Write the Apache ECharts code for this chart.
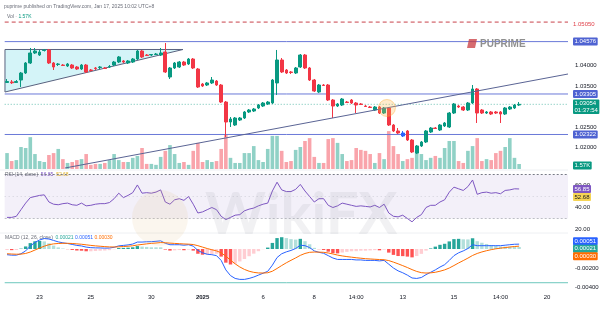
<!DOCTYPE html>
<html><head><meta charset="utf-8">
<script src="https://cdn.jsdelivr.net/npm/echarts@6/dist/echarts.min.js"></script>
<style>html,body{margin:0;padding:0;background:#fff}#c{width:606px;height:311px}</style>
</head><body><div id="c"></div>
<script>
// ---------- data ----------
const N = 121; // category slots (111 candles + empty future space)
const tickIdx  = [7, 18, 31, 42, 55, 66, 75, 85, 96, 106, 116];
const tickText = ['23', '25', '30', '2025', '6', '8', '14:00', '13', '15', '14:00', '20'];

// [open, close, low, high]
const candles = [
[1.03584,1.03608,1.03572,1.03669],[1.03596,1.03577,1.03547,1.03644],[1.03584,1.03608,1.03572,1.03644],[1.03644,1.03814,1.03474,1.03839],[1.03814,1.04057,1.03790,1.04081],
[1.04057,1.04300,1.04033,1.04421],[1.04300,1.04348,1.04275,1.04421],[1.04251,1.04324,1.04227,1.04373],[1.04360,1.04373,1.04336,1.04397],[1.04373,1.04057,1.04033,1.04397],
[1.04057,1.03960,1.03887,1.04081],[1.04021,1.04033,1.03984,1.04057],[1.04008,1.03996,1.03984,1.04033],[1.03984,1.04033,1.03960,1.04057],[1.04008,1.03936,1.03911,1.04033],
[1.03960,1.03911,1.03887,1.03984],[1.03911,1.04008,1.03887,1.04033],[1.04008,1.03839,1.03814,1.04033],[1.03887,1.03875,1.03851,1.03911],[1.03936,1.03923,1.03887,1.03960],
[1.03948,1.03960,1.03911,1.03984],[1.03936,1.03923,1.03911,1.03960],[1.03960,1.03972,1.03936,1.04008],[1.04008,1.04081,1.03984,1.04106],[1.04081,1.04203,1.04057,1.04227],
[1.04106,1.04081,1.04057,1.04130],[1.04057,1.04106,1.04033,1.04130],[1.04081,1.04154,1.04057,1.04178],[1.04154,1.04348,1.04130,1.04373],[1.04348,1.04203,1.04178,1.04373],
[1.04251,1.04239,1.04227,1.04275],[1.04251,1.04263,1.04227,1.04275],[1.04263,1.04275,1.04251,1.04300],[1.04251,1.04300,1.04227,1.04421],[1.04324,1.03839,1.03814,1.04542],
[1.03717,1.03936,1.03669,1.03960],[1.03936,1.04057,1.03911,1.04081],[1.03960,1.04081,1.03936,1.04106],[1.04081,1.04008,1.03984,1.04106],[1.04033,1.04154,1.04008,1.04178],
[1.04154,1.03936,1.03911,1.04178],[1.03911,1.03474,1.03450,1.03936],[1.03547,1.03499,1.03474,1.03572],[1.03523,1.03572,1.03499,1.03596],[1.03572,1.03644,1.03547,1.03717],
[1.03620,1.03523,1.03499,1.03644],[1.03523,1.03110,1.03086,1.03547],[1.03110,1.02625,1.02261,1.03135],[1.02625,1.02698,1.02504,1.02746],[1.02552,1.02722,1.02528,1.02746],
[1.02673,1.02722,1.02649,1.02746],[1.02722,1.02868,1.02698,1.02892],[1.02868,1.02916,1.02843,1.02940],[1.02892,1.02940,1.02868,1.02965],[1.02965,1.03037,1.02940,1.03062],
[1.03013,1.03086,1.02989,1.03110],[1.03062,1.03110,1.03037,1.03135],[1.03086,1.03644,1.03062,1.03669],[1.03572,1.04130,1.03280,1.04373],[1.04130,1.03839,1.03814,1.04178],
[1.03887,1.03814,1.03790,1.03911],[1.03839,1.03826,1.03790,1.03863],[1.03814,1.03936,1.03790,1.03960],[1.03960,1.04251,1.03936,1.04275],[1.04251,1.03936,1.03911,1.04275],
[1.03936,1.03644,1.03620,1.03960],[1.03644,1.03377,1.03353,1.03669],[1.03353,1.03523,1.03329,1.03547],[1.03523,1.03511,1.03499,1.03547],[1.03523,1.03159,1.03135,1.03547],
[1.03159,1.03013,1.02722,1.03183],[1.03013,1.03062,1.02989,1.03086],[1.03037,1.03183,1.03013,1.03207],[1.03110,1.03098,1.03086,1.03135],[1.03159,1.03086,1.03062,1.03183],
[1.03086,1.03037,1.02843,1.03110],[1.03062,1.03050,1.03037,1.03086],[1.03013,1.03001,1.02989,1.03037],[1.02989,1.02977,1.02965,1.03013],[1.02916,1.02989,1.02892,1.03013],
[1.02989,1.02843,1.02819,1.03013],[1.02843,1.02965,1.02819,1.02989],[1.02965,1.02552,1.02528,1.02989],[1.02552,1.02407,1.02382,1.02576],[1.02407,1.02358,1.02334,1.02479],
[1.02285,1.02358,1.02261,1.02407],[1.02407,1.02188,1.02164,1.02431],[1.02188,1.01897,1.01872,1.02212],[1.01872,1.02043,1.01848,1.02067],[1.02043,1.02140,1.02018,1.02164],
[1.02140,1.02407,1.02115,1.02431],[1.02382,1.02479,1.02358,1.02504],[1.02479,1.02467,1.02455,1.02504],[1.02431,1.02552,1.02407,1.02576],[1.02528,1.02601,1.02504,1.02625],
[1.02504,1.02843,1.02479,1.02868],[1.02843,1.03062,1.02819,1.03086],[1.03013,1.02989,1.02965,1.03037],[1.02989,1.02916,1.02892,1.03013],[1.02916,1.03086,1.02892,1.03110],
[1.03086,1.03426,1.03062,1.03523],[1.03426,1.02843,1.02601,1.03450],[1.02916,1.02843,1.02819,1.02940],[1.02843,1.02868,1.02819,1.02892],[1.02868,1.02819,1.02795,1.02892],
[1.02868,1.02843,1.02819,1.02892],[1.02868,1.02819,1.02601,1.02892],[1.02819,1.02965,1.02795,1.02989],[1.02940,1.02989,1.02916,1.03013],[1.02965,1.03037,1.02940,1.03062],
[1.03037,1.03054,1.03013,1.03110]
];
const blueCandle = 85;

// volume in thousands
const volumeK = [
5.0,2.5,2.8,6.9,6.6,10.0,4.7,2.5,2.2,4.4,
5.0,6.3,3.1,1.9,2.2,2.8,3.1,4.7,1.3,1.6,
1.6,1.9,2.8,4.7,2.8,2.2,2.2,3.5,4.1,6.6,
1.6,1.6,1.3,3.8,5.7,7.5,4.7,1.9,2.2,1.3,
5.7,8.2,2.2,2.8,2.2,2.5,6.3,10.7,3.5,1.9,
1.9,5.0,5.0,7.2,2.8,2.2,6.3,10.4,10.4,5.7,
2.2,2.5,6.0,6.9,8.8,9.7,3.8,1.9,1.9,9.4,
9.7,8.2,4.7,2.5,2.8,6.6,6.0,5.7,4.7,1.9,
5.0,3.1,11.9,7.2,4.7,2.5,3.1,3.5,5.7,4.7,
2.8,3.5,4.1,3.5,6.6,8.8,8.8,2.5,1.9,5.7,
7.2,9.7,2.5,3.1,2.8,5.0,5.7,6.9,9.7,3.5,1.57
];

const rsi = [
31,31,32,38,44,49,50,51,51.5,45,
43,42.5,43.5,44,42.5,42,44,41.5,42,43,
43.5,43.5,44.5,48,53,49,51,53.5,60.5,53,
53.5,53,54,56,45,43,47,48,46.5,50,
43,35,36,38,40,38,32,29,31,33,
33.5,37,38.5,39.5,41.5,43,44,55,63,56,
54.5,54.5,56.5,61,55,50,45,48,48,42,
40,41.5,44,43,42,41,41.5,41,40.5,42,
40,43,35,32,31.5,33,30,27,31,33.5,
40,42,42,45,47,54,58.5,57,55.5,59,
65,52,53.5,54,53,53.5,52.5,55.5,56,57,56.85
];
const rsiMA = 52.68;

// MACD values in units of 0.0001
const macdE4 = [
-6,-6.5,-6.5,-5,-2,3,7,9.5,11,10.5,
9,7.5,6.5,5.8,4.8,3.8,3.2,2,1.4,1.2,
1.1,0.9,1,1.8,3.3,3.8,4.3,5.2,7.3,7.3,
7.6,7.7,8.1,8.6,6,4.5,4.5,4.5,4,4.5,
3,-1.5,-4,-5.5,-6,-7,-12,-22,-28,-31,
-32,-32,-31,-29.5,-27.5,-25.5,-23.5,-17,-9,-5,
-3,-1.5,0.5,4,3.5,1.5,-2,-3.5,-4.5,-7,
-9.5,-11,-11,-11,-11,-11.5,-11.5,-12,-12,-12,
-12.5,-12,-16,-20,-23,-25,-27.5,-30.5,-31,-30,
-27,-24.5,-22,-19,-16.5,-12,-7,-4,-2,0.5,
4.5,3.5,3.5,3.5,3.5,3.5,3.5,4,4.5,5,5.1
];
const signalE4 = [
-5,-5.3,-5.5,-5.4,-4.7,-3.2,-1.1,1,3,4.5,
5.4,5.8,6,6,5.8,5.4,5,4.4,3.8,3.3,
2.9,2.5,2.2,2.1,2.3,2.6,2.9,3.4,4.2,4.8,
5.4,5.9,6.3,6.8,6.6,6.2,5.9,5.6,5.3,5.1,
4.7,3.5,2,0.5,-0.8,-2,-4,-7.6,-11.7,-15.6,
-18.9,-21.5,-23.4,-24.6,-25.2,-25.3,-25,-23.4,-20.5,-17.4,
-14.5,-11.9,-9.4,-6.7,-4.7,-3.5,-3.2,-3.3,-3.5,-4.2,
-5.2,-6.4,-7.3,-8,-8.6,-9.2,-9.7,-10.2,-10.5,-10.8,
-11.1,-11.3,-12.2,-13.8,-15.6,-17.5,-19.5,-21.7,-23.6,-24.9,
-25.3,-25.1,-24.5,-23.4,-22,-20,-17.4,-14.7,-12.2,-9.6,
-6.8,-4.7,-3.1,-1.8,-0.7,0.2,0.9,1.5,2.1,2.6,3.0
];
const histE4 = [
-1,-1.2,-1,0.4,2.7,6.2,8.1,8.5,8,6,
3.6,1.7,0.5,-0.2,-1,-1.6,-1.8,-2.4,-2.4,-2.1,
-1.8,-1.6,-1.2,-0.3,1,1.2,1.4,1.8,3.1,2.5,
2.2,1.8,1.8,1.8,-0.6,-1.7,-1.4,-1.1,-1.3,-0.6,
-1.7,-5,-6,-6,-5.2,-5,-8,-14.4,-16.3,-15.4,
-13.1,-10.5,-7.6,-4.9,-2.3,-0.2,1.5,6.4,11.5,12.4,
11.5,10.4,9.9,10.7,8.2,5,1.2,-0.2,-1,-2.8,
-4.3,-4.6,-3.7,-3,-2.4,-2.3,-1.8,-1.8,-1.5,-1.2,
-1.4,-0.7,-3.8,-6.2,-7.4,-7.5,-8,-8.8,-7.4,-5.1,
-1.7,0.6,2.5,4.4,5.5,8,10.4,10.7,10.2,10.1,
11.3,8.2,6.6,5.3,4.2,3.3,2.6,2.5,2.4,2.4,2.1
];

// drawings
const levels = [1.04576, 1.03305, 1.02322];
const redLevel = 1.05050;
const priceTicks = [1.04, 1.035, 1.025, 1.02];
const rsiTicks = [60, 40, 20];
const macdTicksE4 = [-20, -40];
const triangle = [[-0.44, 1.04385], [-0.44, 1.03353], [37.8, 1.04385]];
const trendLine = [[12.46, 1.01509], [120.5, 1.03790]];
const highlight = [81.6, 1.02965];
const bottomLineE4 = -35.5;
const countdown = '01:37:54';

// ---------- chart ----------
const FONT = '"Liberation Sans", Arial, sans-serif';
const UP = '#089981', DN = '#f23645';
const cats = Array.from({length: N}, (_, i) => String(i));
const tickMap = {}; tickIdx.forEach((k, j) => tickMap[k] = tickText[j]);
const lastC = candles[candles.length - 1][1];
const lastV = volumeK[volumeK.length - 1];
const lastRsi = rsi[rsi.length - 1];
const lastMacd = macdE4[macdE4.length - 1], lastSig = signalE4[signalE4.length - 1], lastHist = histE4[histE4.length - 1];

const candleData = candles.map((c, i) => i === blueCandle
  ? {value: c, itemStyle: {color: '#2962ff', color0: '#2962ff', borderColor: '#2962ff', borderColor0: '#2962ff'}}
  : c);
const volData = volumeK.map((v, i) => ({value: v, itemStyle: {color: candles[i][1] >= candles[i][0] ? 'rgba(8,153,129,0.45)' : 'rgba(242,54,69,0.45)'}}));
const histData = histE4.map((h, i) => {
  const p = i ? histE4[i - 1] : h;
  const col = h >= 0 ? (h > p ? '#26a69a' : '#b2dfdb') : (h < p ? '#ff5252' : '#ffcdd2');
  return {value: h, itemStyle: {color: col}};
});

// horizontal level as a line series spanning the whole pane (value x-axis)
function hLine(xAxisIndex, yAxisIndex, v, style, z) {
  return {type: 'line', xAxisIndex, yAxisIndex, data: [[-0.5, v], [N - 0.5, v]], symbol: 'none', silent: true,
    z: z || 2, lineStyle: style};
}

const chart = echarts.init(document.getElementById('c'));
const GL = 4.7, GR = 38;
chart.setOption({
  animation: false,
  backgroundColor: '#ffffff',
  grid: [
    {left: GL, right: GR, top: 14, height: 155},
    {left: GL, right: GR, top: 171, height: 61},
    {left: GL, right: GR, top: 234, height: 58}
  ],
  xAxis: [
    {type: 'category', gridIndex: 0, data: cats, show: false},
    {type: 'value', gridIndex: 0, min: -0.5, max: N - 0.5, show: false},
    {type: 'category', gridIndex: 1, data: cats, show: false},
    {type: 'category', gridIndex: 2, data: cats, axisLine: {show: false}, axisTick: {show: false}, splitLine: {show: false},
      axisLabel: {interval: 0, margin: 2, fontSize: 6, fontFamily: FONT, color: '#131722',
        formatter: (v, i) => tickMap[i] === undefined ? '' : (tickMap[i] === '2025' ? '{b|2025}' : tickMap[i]),
        rich: {b: {fontWeight: 'bold', fontSize: 6, fontFamily: FONT, color: '#131722'}}}},
    {type: 'value', gridIndex: 1, min: -0.5, max: N - 0.5, show: false},
    {type: 'value', gridIndex: 2, min: -0.5, max: N - 0.5, show: false}
  ],
  yAxis: [
    {type: 'value', gridIndex: 0, min: 1.014844, max: 1.052462, show: false},
    {type: 'value', gridIndex: 0, min: 0, max: 48.67, show: false},
    {type: 'value', gridIndex: 1, min: 17.73, max: 73.18, show: false},
    {type: 'value', gridIndex: 2, min: -45.26, max: 15.79, show: false}
  ],
  series: [
    {type: 'bar', xAxisIndex: 0, yAxisIndex: 1, data: volData, barWidth: 3.6, z: 1, silent: true},
    {type: 'custom', xAxisIndex: 1, yAxisIndex: 0, data: [0], z: 2, silent: true,
      renderItem: (params, api) => ({type: 'polygon', shape: {points: triangle.map(p => api.coord(p))},
        style: {fill: 'rgba(0,188,212,0.17)', stroke: '#59627f', lineWidth: 1}})},
    ...levels.map(v => hLine(1, 0, v, {color: '#6a79d8', width: 1, type: 'solid'}, 2)),
    hLine(1, 0, lastC, {color: UP, width: 1, type: [1, 2], opacity: 0.6}, 2),
    hLine(1, 0, redLevel, {color: '#c9424a', width: 1, type: [4, 3]}, 2),
    {type: 'candlestick', xAxisIndex: 0, yAxisIndex: 0, data: candleData, barWidth: 3.2, z: 3, silent: true,
      itemStyle: {color: UP, color0: DN, borderColor: UP, borderColor0: DN, borderWidth: 1}},
    {type: 'line', xAxisIndex: 1, yAxisIndex: 0, data: trendLine, symbol: 'none', z: 4, silent: true,
      lineStyle: {color: '#5a6494', width: 1}},
    {type: 'scatter', xAxisIndex: 1, yAxisIndex: 0, data: [highlight], symbolSize: 17, z: 5, silent: true,
      itemStyle: {color: 'rgba(255,183,77,0.35)', borderColor: 'rgba(255,167,38,0.5)', borderWidth: 1}},
    {type: 'custom', xAxisIndex: 4, yAxisIndex: 2, data: [0], z: 1, silent: true,
      renderItem: (params, api) => {
        const a = api.coord([-0.5, 70]), b = api.coord([N - 0.5, 30]);
        return {type: 'rect', shape: {x: a[0], y: a[1], width: b[0] - a[0], height: b[1] - a[1]}, style: {fill: 'rgba(126,87,194,0.09)'}};
      }},
    hLine(4, 2, 70, {color: '#787b86', width: 1, type: [2, 2]}, 2),
    hLine(4, 2, 50, {color: '#b2b5be', width: 1, type: [1, 3], opacity: 0.5}, 2),
    hLine(4, 2, 30, {color: '#9598a1', width: 1, type: [2, 2], opacity: 0.6}, 2),
    {type: 'line', xAxisIndex: 2, yAxisIndex: 2, data: rsi, symbol: 'none', silent: true, z: 3,
      lineStyle: {color: '#7e57c2', width: 1}},
    hLine(5, 3, bottomLineE4, {color: '#6cc7bd', width: 1, type: 'solid'}, 2),
    {type: 'bar', xAxisIndex: 3, yAxisIndex: 3, data: histData, barWidth: 3.4, silent: true, z: 2},
    {type: 'line', xAxisIndex: 3, yAxisIndex: 3, data: macdE4, symbol: 'none', silent: true, z: 3, lineStyle: {color: '#2962ff', width: 1}},
    {type: 'line', xAxisIndex: 3, yAxisIndex: 3, data: signalE4, symbol: 'none', silent: true, z: 3, lineStyle: {color: '#ff6d00', width: 1}}
  ]
});

// ---------- right-side scale labels & texts (positions from the chart's own scales) ----------
const py = (axis, v) => chart.convertToPixel({yAxisIndex: axis}, v);
const LX = 573;
function box(y, text, bg, fg) {
  return {type: 'text', x: LX, y: y, z: 100, silent: true,
    style: {text: text, font: '6px ' + FONT, fill: fg, backgroundColor: bg, padding: [1, 1.5, 0.5, 1.5],
      borderRadius: 1, verticalAlign: 'middle', align: 'left', lineHeight: 6.5}};
}
function tick(y, text) {
  return {type: 'text', x: LX + 2, y: y, z: 90, silent: true,
    style: {text: text, font: '6px ' + FONT, fill: '#131722', verticalAlign: 'middle', align: 'left'}};
}
const g = [];
priceTicks.forEach(v => g.push(tick(py(0, v), v.toFixed(5))));
rsiTicks.forEach(v => g.push(tick(py(2, v), v.toFixed(2))));
macdTicksE4.forEach(v => g.push(tick(py(3, v), (v / 10000).toFixed(5))));
g.push({type: 'text', x: LX, y: py(0, redLevel) + 2, z: 100, silent: true,
  style: {text: redLevel.toFixed(5), font: '6px ' + FONT, fill: '#e0414a', verticalAlign: 'middle'}});
levels.forEach(v => g.push(box(py(0, v), v.toFixed(5), '#4f63d2', '#ffffff')));
g.push(box(py(0, lastC) + 2.5, lastC.toFixed(5) + '\n' + countdown, UP, '#ffffff'));
g.push(box(py(1, lastV) + 1.5, lastV.toFixed(2) + 'K', UP, '#ffffff'));
g.push(box(py(2, lastRsi), lastRsi.toFixed(2), '#7e57c2', '#ffffff'));
g.push(box(py(2, lastRsi) + 8, rsiMA.toFixed(2), '#f5d454', '#131722'));
const mY = py(3, lastMacd) - 3;
g.push(box(mY, (lastMacd / 10000).toFixed(5), '#2962ff', '#ffffff'));
g.push(box(mY + 7.5, (lastHist / 10000).toFixed(5), '#26a69a', '#ffffff'));
g.push(box(mY + 15, (lastSig / 10000).toFixed(5), '#ff6d00', '#ffffff'));

// headers
g.push({type: 'text', x: 4, y: 4, silent: true, style: {text: 'puprime published on TradingView.com, Jan 17, 2025 10:02 UTC+8', font: '5px ' + FONT, fill: '#6a6d78'}});
g.push({type: 'text', x: 7, y: 14, silent: true, style: {text: 'Vol · {g|' + lastV.toFixed(2) + 'K}', font: '5px ' + FONT, fill: '#6a6d78',
  rich: {g: {fill: UP, font: '5px ' + FONT}}}});
g.push({type: 'text', x: 5, y: 172, silent: true, style: {text: 'RSI (14, close)  {p|' + lastRsi.toFixed(2) + '}  {y|' + rsiMA.toFixed(2) + '}', font: '5px ' + FONT, fill: '#6a6d78',
  rich: {p: {fill: '#7e57c2', font: '5px ' + FONT}, y: {fill: '#e0b020', font: '5px ' + FONT}}}});
g.push({type: 'text', x: 5, y: 235, silent: true, style: {text: 'MACD (12, 26, close)  {t|' + (lastHist / 10000).toFixed(5) + '} {b|' + (lastMacd / 10000).toFixed(5) + '} {o|' + (lastSig / 10000).toFixed(5) + '}',
  font: '5px ' + FONT, fill: '#6a6d78',
  rich: {t: {fill: '#26a69a', font: '5px ' + FONT}, b: {fill: '#2962ff', font: '5px ' + FONT}, o: {fill: '#ff6d00', font: '5px ' + FONT}}}});

// pane separators
[170, 233].forEach(y => g.push({type: 'line', silent: true, z: 0, shape: {x1: 0, y1: y, x2: 568, y2: y}, style: {stroke: '#eef0f3', lineWidth: 1}}));

// watermarks / logos
g.push({type: 'circle', silent: true, z: 50, shape: {cx: 160, cy: 218, r: 28}, style: {fill: 'rgba(225,185,120,0.13)'}});
g.push({type: 'text', x: 205, y: 186, silent: true, z: 50, style: {text: 'WikiFX', font: 'bold 58px Lato, ' + FONT, fill: 'rgba(150,150,160,0.13)'}});
g.push({type: 'polygon', silent: true, z: 60, shape: {points: [[469, 39], [477, 39], [475, 48], [467, 48]]}, style: {fill: '#c8393f', opacity: 0.75}});
g.push({type: 'text', x: 480, y: 39, silent: true, z: 60, style: {text: 'PUPRIME', font: 'bold 10px ' + FONT, fill: '#8f8f8f'}});

chart.setOption({graphic: g});
</script>
</body></html>
